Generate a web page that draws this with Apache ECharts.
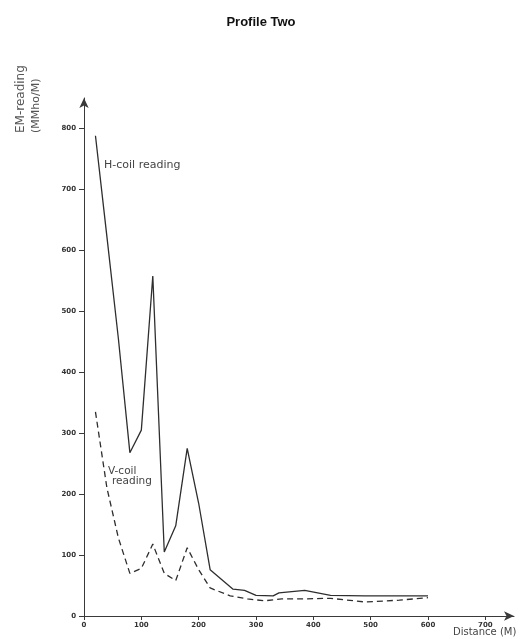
<!DOCTYPE html>
<html>
<head>
<meta charset="utf-8">
<script src="https://cdn.jsdelivr.net/npm/echarts@6/dist/echarts.min.js"></script>
<style>
html,body{margin:0;padding:0;background:#fff;}
#chart{width:522px;height:639px;}
</style>
</head>
<body>
<div id="chart"></div>
<script>
// Distance (M) and EM readings (MMho/M)
var hDist = [20, 40, 60, 80, 100, 120, 140, 160, 180, 200, 220, 260, 280, 300, 330, 340, 385, 430, 490, 550, 600];
var hVal  = [788, 622, 455, 268, 305, 558, 105, 148, 275, 185, 76, 44, 42, 34, 33, 38, 42, 34, 33, 33, 33];
var vDist = [20, 40, 60, 80, 100, 120, 140, 160, 180, 200, 220, 255, 285, 315, 345, 375, 430, 490, 550, 600];
var vVal  = [335, 210, 128, 70, 78, 118, 70, 58, 112, 76, 46, 33, 28, 25, 28, 28, 29, 23, 26, 30];
var xTicks = [0, 100, 200, 300, 400, 500, 600, 700];
var yTicks = [0, 100, 200, 300, 400, 500, 600, 700, 800];

function pairs(xs, ys) { return xs.map(function (x, i) { return [x, ys[i]]; }); }

var chart = echarts.init(document.getElementById('chart'), null, { renderer: 'canvas' });
var axisCol = '#3a3a3a';
chart.setOption({
  animation: false,
  backgroundColor: '#ffffff',
  title: {
    text: 'Profile Two', left: 'center', top: 11,
    textStyle: { fontFamily: 'Liberation Sans, Arial, sans-serif', fontSize: 13, fontWeight: 'bold', color: '#111' }
  },
  grid: { left: 84, right: 8, top: 98, bottom: 23 },
  xAxis: {
    type: 'value', min: 0, max: 750, interval: 100,
    axisLine: { show: true, symbol: ['none', 'arrow'], symbolSize: [7, 10], lineStyle: { color: axisCol, width: 1 } },
    axisTick: { show: true, length: 4, lineStyle: { color: axisCol } },
    axisLabel: {
      showMaxLabel: false, margin: 6, fontSize: 7, fontWeight: 'bold', color: '#333',
      fontFamily: 'DejaVu Sans, sans-serif',
      formatter: function (v) { return xTicks.indexOf(v) >= 0 ? String(v) : ''; }
    },
    splitLine: { show: false }
  },
  yAxis: {
    type: 'value', min: 0, max: 850, interval: 100,
    axisLine: { show: true, symbol: ['none', 'arrow'], symbolSize: [7, 10], lineStyle: { color: axisCol, width: 1 } },
    axisTick: { show: true, length: 5, lineStyle: { color: axisCol } },
    axisLabel: {
      showMaxLabel: false, margin: 8, fontSize: 7, fontWeight: 'bold', color: '#333',
      fontFamily: 'DejaVu Sans, sans-serif',
      formatter: function (v) { return yTicks.indexOf(v) >= 0 ? String(v) : ''; }
    },
    splitLine: { show: false }
  },
  series: [
    {
      name: 'H-coil reading', type: 'line', data: pairs(hDist, hVal),
      symbol: 'none', lineStyle: { color: '#2e2e2e', width: 1.3 }
    },
    {
      name: 'V-coil reading', type: 'line', data: pairs(vDist, vVal),
      symbol: 'none', lineStyle: { color: '#2e2e2e', width: 1.3, type: [6, 4] }
    }
  ],
  graphic: [
    { type: 'text', x: 21, y: 133, rotation: Math.PI / 2,
      style: { text: 'EM-reading', fontSize: 12, fontFamily: 'DejaVu Sans, sans-serif', fill: '#555', align: 'left', verticalAlign: 'middle' } },
    { type: 'text', x: 36, y: 133, rotation: Math.PI / 2,
      style: { text: '(MMho/M)', fontSize: 11, fontFamily: 'DejaVu Sans, sans-serif', fill: '#555', align: 'left', verticalAlign: 'middle' } },
    { type: 'text', x: 104, y: 165,
      style: { text: 'H-coil reading', fontSize: 11, fontFamily: 'DejaVu Sans, sans-serif', fill: '#444', align: 'left', verticalAlign: 'middle' } },
    { type: 'text', x: 108, y: 471,
      style: { text: 'V-coil', fontSize: 10.5, fontFamily: 'DejaVu Sans, sans-serif', fill: '#444', align: 'left', verticalAlign: 'middle' } },
    { type: 'text', x: 112, y: 481,
      style: { text: 'reading', fontSize: 10.5, fontFamily: 'DejaVu Sans, sans-serif', fill: '#444', align: 'left', verticalAlign: 'middle' } },
    { type: 'text', x: 453, y: 632,
      style: { text: 'Distance (M)', fontSize: 10, fontFamily: 'DejaVu Sans, sans-serif', fill: '#444', align: 'left', verticalAlign: 'middle' } }
  ]
});
</script>
</body>
</html>
